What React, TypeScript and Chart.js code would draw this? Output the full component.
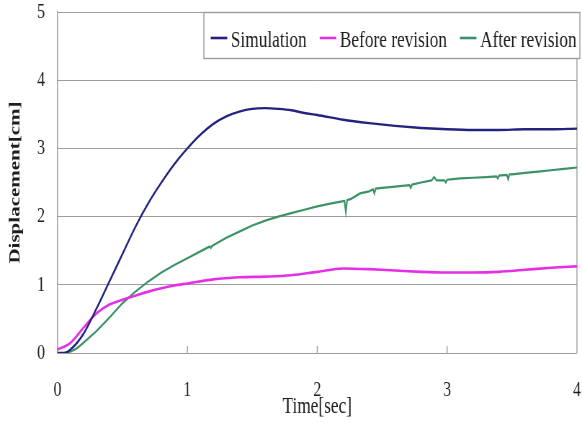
import React, { useEffect, useRef } from "react";
import { Chart, registerables } from "chart.js";

Chart.register(...registerables);

// ---- data ----
const seriesNames = ["Simulation", "Before revision", "After revision"];
const seriesColors = ["#23237f", "#e62ee6", "#3c9166"];

const xTickValues = [0, 1, 2, 3, 4];
const yTickValues = [0, 1, 2, 3, 4, 5];

const simTime = [0, 0.05, 0.1, 0.2, 0.3, 0.4, 0.5, 0.6, 0.7, 0.8, 0.9, 1.0, 1.1, 1.2, 1.3, 1.4, 1.5, 1.6, 1.7, 1.8, 1.9, 2.0, 2.2, 2.4, 2.6, 2.8, 3.0, 3.2, 3.4, 3.6, 3.8, 4.0];
const simDisp = [0, 0.0, 0.05, 0.28, 0.65, 1.05, 1.45, 1.85, 2.2, 2.5, 2.77, 3.0, 3.2, 3.36, 3.47, 3.54, 3.58, 3.59, 3.58, 3.56, 3.52, 3.49, 3.42, 3.37, 3.33, 3.3, 3.28, 3.27, 3.27, 3.28, 3.28, 3.29];

const beforeTime = [0, 0.1, 0.2, 0.3, 0.4, 0.5, 0.6, 0.7, 0.8, 0.9, 1.0, 1.2, 1.4, 1.6, 1.8, 2.0, 2.2, 2.4, 2.6, 2.8, 3.0, 3.2, 3.4, 3.6, 3.8, 4.0];
const beforeDisp = [0.05, 0.15, 0.37, 0.58, 0.71, 0.78, 0.84, 0.9, 0.95, 0.99, 1.02, 1.08, 1.11, 1.12, 1.14, 1.19, 1.24, 1.23, 1.21, 1.19, 1.18, 1.18, 1.19, 1.22, 1.25, 1.27];

const afterTime = [0, 0.05, 0.1, 0.15, 0.2, 0.3, 0.4, 0.5, 0.6, 0.7, 0.8, 0.9, 1.0, 1.1, 1.17, 1.18, 1.19, 1.3, 1.4, 1.5, 1.6, 1.7, 1.8, 1.9, 2.0, 2.1, 2.18, 2.21, 2.22, 2.23, 2.26, 2.33, 2.4, 2.43, 2.44, 2.45, 2.5, 2.6, 2.71, 2.72, 2.73, 2.8, 2.88, 2.9, 2.92, 2.98, 2.99, 3.0, 3.1, 3.2, 3.3, 3.38, 3.39, 3.4, 3.46, 3.47, 3.48, 3.5, 3.6, 3.7, 3.8, 3.9, 4.0];
const afterDisp = [0, 0, 0.02, 0.07, 0.15, 0.32, 0.52, 0.73, 0.9, 1.05, 1.18, 1.29, 1.39, 1.49, 1.56, 1.54, 1.57, 1.69, 1.78, 1.87, 1.94, 2.0, 2.05, 2.1, 2.15, 2.19, 2.22, 2.23, 2.07, 2.24, 2.26, 2.34, 2.37, 2.4, 2.34, 2.41, 2.42, 2.44, 2.46, 2.42, 2.47, 2.5, 2.53, 2.58, 2.53, 2.53, 2.5, 2.54, 2.56, 2.57, 2.58, 2.59, 2.56, 2.6, 2.61, 2.55, 2.62, 2.62, 2.64, 2.66, 2.68, 2.7, 2.72];

const xTitle = "Time[sec]";
const yTitle = "Displacement[cm]";

// ---- rendering constants ----
const VIEW_W = 582;
const VIEW_H = 423;
const CANVAS_W = 808; // drawn wider, then shown horizontally condensed like the reference
const FONT = '"Liberation Serif", "Times New Roman", serif';
const GRID = "#9c9c9c";
const TEXT = "#1e1e1e";

const framePlugin = {
  id: "frameAndLegend",
  beforeDatasetsDraw(chart: any) {
    const { ctx, chartArea: a, scales } = chart;
    ctx.save();
    ctx.strokeStyle = GRID;
    ctx.lineWidth = 1.4;
    ctx.beginPath();
    ctx.moveTo(a.right, a.top);
    ctx.lineTo(a.right, a.bottom);
    const xs = scales.x;
    xs.ticks.forEach((t: any) => {
      const px = xs.getPixelForValue(t.value);
      ctx.moveTo(px, a.bottom);
      ctx.lineTo(px, a.bottom - 7);
    });
    ctx.stroke();
    ctx.restore();
  },
  afterDraw(chart: any) {
    const { ctx } = chart;
    const boxL = 283, boxT = 12, boxR = 805, boxB = 58;
    ctx.save();
    ctx.fillStyle = "#ffffff";
    ctx.fillRect(boxL, boxT, boxR - boxL, boxB - boxT);
    ctx.strokeStyle = GRID;
    ctx.lineWidth = 1.4;
    ctx.strokeRect(boxL, boxT + 0.5, boxR - boxL, boxB - boxT);
    ctx.font = `24px ${FONT}`;
    ctx.textBaseline = "alphabetic";
    ctx.textAlign = "left";
    let x = 292.5;
    chart.data.datasets.forEach((ds: any) => {
      ctx.strokeStyle = ds.borderColor;
      ctx.lineWidth = 2.6;
      ctx.beginPath();
      ctx.moveTo(x, 38);
      ctx.lineTo(x + 23, 38);
      ctx.stroke();
      x += 28;
      ctx.fillStyle = TEXT;
      ctx.fillText(ds.label, x, 47);
      x += ctx.measureText(ds.label).width + 18;
    });
    ctx.restore();
  },
};

function toPoints(ts: number[], ys: number[]) {
  return ts.map((t, i) => ({ x: t, y: ys[i] }));
}

function clearScalePadding(scale: any) {
  scale.paddingTop = 0;
  scale.paddingBottom = 0;
  scale.paddingLeft = 0;
  scale.paddingRight = 0;
}

export default function App() {
  const ref = useRef<HTMLCanvasElement | null>(null);

  useEffect(() => {
    if (!ref.current) return;
    const chart = new Chart(ref.current, {
      type: "line",
      data: {
        datasets: [
          {
            label: seriesNames[0],
            data: toPoints(simTime, simDisp),
            borderColor: seriesColors[0],
            backgroundColor: seriesColors[0],
            borderWidth: 2.4,
            pointRadius: 0,
            cubicInterpolationMode: "monotone",
            fill: false,
          },
          {
            label: seriesNames[1],
            data: toPoints(beforeTime, beforeDisp),
            borderColor: seriesColors[1],
            backgroundColor: seriesColors[1],
            borderWidth: 2.6,
            pointRadius: 0,
            cubicInterpolationMode: "monotone",
            fill: false,
          },
          {
            label: seriesNames[2],
            data: toPoints(afterTime, afterDisp),
            borderColor: seriesColors[2],
            backgroundColor: seriesColors[2],
            borderWidth: 2.2,
            pointRadius: 0,
            tension: 0,
            fill: false,
          },
        ],
      },
      options: {
        animation: false,
        responsive: false,
        devicePixelRatio: 1,
        layout: { padding: { top: 12, right: 7, bottom: 0, left: 0 } },
        plugins: {
          legend: { display: false },
          tooltip: { enabled: false },
        },
        scales: {
          x: {
            type: "linear",
            min: 0,
            max: 4,
            afterBuildTicks: (scale: any) => {
              scale.ticks = xTickValues.map((v) => ({ value: v }));
            },
            afterFit: (scale: any) => {
              scale.height = 70;
              clearScalePadding(scale);
            },
            ticks: {
              font: { family: FONT, size: 22 },
              color: TEXT,
              padding: 24,
              maxRotation: 0,
            },
            grid: { display: false, drawTicks: false },
            border: { display: false },
            title: {
              display: true,
              text: xTitle,
              font: { family: FONT, size: 24, lineHeight: 1.2 },
              color: TEXT,
              padding: { top: 0, bottom: 2 },
            },
          },
          y: {
            type: "linear",
            min: 0,
            max: 5,
            afterBuildTicks: (scale: any) => {
              scale.ticks = yTickValues.map((v) => ({ value: v }));
            },
            afterFit: (scale: any) => {
              scale.width = 79.8;
              clearScalePadding(scale);
            },
            ticks: {
              font: { family: FONT, size: 22, lineHeight: 1 },
              color: TEXT,
              padding: 17.3,
            },
            grid: { color: GRID, lineWidth: 1, drawTicks: false },
            border: { display: true, color: GRID, width: 1.4 },
            title: {
              display: true,
              text: yTitle,
              font: { family: FONT, size: 21, weight: "bold", lineHeight: 1.2 },
              color: TEXT,
              padding: { top: 9, bottom: 0 },
            },
          },
        },
      },
      plugins: [framePlugin],
    } as any);
    return () => chart.destroy();
  }, []);

  return (
    <div style={{ position: "absolute", left: 0, top: 0, width: VIEW_W, height: VIEW_H, background: "#fff" }}>
      <canvas
        ref={ref}
        width={CANVAS_W}
        height={VIEW_H}
        style={{ width: `${VIEW_W}px`, height: `${VIEW_H}px`, display: "block" }}
      />
    </div>
  );
}
